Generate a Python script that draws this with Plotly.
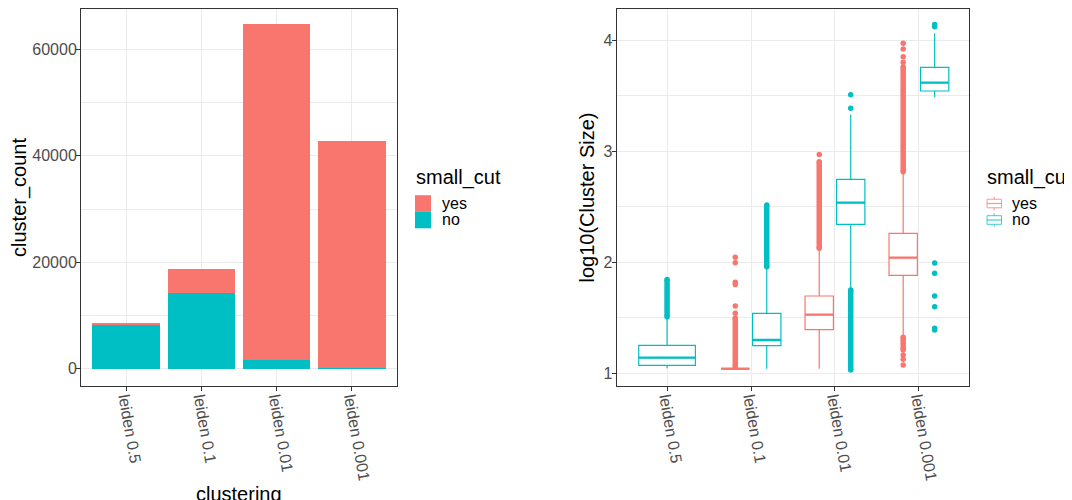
import plotly.graph_objects as go

# ---------------- data ----------------
categories = ["leiden 0.5", "leiden 0.1", "leiden 0.01", "leiden 0.001"]
groups = ["yes", "no"]

# stacked bar counts
count_yes = [250, 4500, 63000, 42700]
count_no = [8250, 14250, 1690, 60]

# box statistics of log10(cluster size) (None = no data)
yes_lower = [None, 1.041, 1.041, 1.324]
yes_q1 = [None, 1.041, 1.393, 1.882]
yes_median = [None, 1.041, 1.528, 2.041]
yes_q3 = [None, 1.041, 1.696, 2.260]
yes_upper = [None, 1.041, 2.125, 2.815]

no_lower = [1.045, 1.041, 1.750, 3.484]
no_q1 = [1.072, 1.249, 2.341, 3.541]
no_median = [1.141, 1.300, 2.536, 3.616]
no_q3 = [1.252, 1.540, 2.746, 3.754]
no_upper = [1.510, 1.960, 3.330, 4.060]

# dense outlier runs: (category index, low, high)
yes_dense_cat = [1, 2, 3, 3]
yes_dense_low = [1.060, 2.125, 2.815, 1.210]
yes_dense_high = [1.498, 2.905, 3.760, 1.324]
no_dense_cat = [0, 1, 2]
no_dense_low = [1.510, 1.960, 1.030]
no_dense_high = [1.845, 2.515, 1.750]

# isolated outliers
yes_out_cat = [1, 1, 1, 1, 1, 1, 2, 3, 3, 3, 3, 3, 3, 3]
yes_out_val = [1.540, 1.606, 1.800, 1.820, 1.996, 2.044, 2.970,
               3.800, 3.850, 3.920, 3.970, 1.165, 1.126, 1.075]
no_out_cat = [2, 2, 3, 3, 3, 3, 3, 3, 3, 3]
no_out_val = [3.385, 3.508, 4.120, 4.140, 1.993, 1.900, 1.696, 1.600, 1.405, 1.390]

legend_title = "small_cut"

# ---------------- style ----------------
RED = "#F8766D"
TEAL = "#00BFC4"
colors = {"yes": RED, "no": TEAL}
FONT = "Liberation Sans, Arial, Helvetica, sans-serif"
GRID = "#EBEBEB"
BORDER = "#333333"
TICKC = "#4D4D4D"

W, H = 1072, 500
OFF = 8  # page body margin


def fx(p):
    return (p - OFF) / W


def fy(p):
    return min(1.0, 1 - (p - OFF) / H)


fig = go.Figure()

# ---------------- left: stacked bars ----------------
xpos = list(range(len(categories)))
fig.add_trace(go.Bar(x=xpos, y=count_no, name="no", marker_color=TEAL, width=0.9,
                     marker_line_width=0, xaxis="x", yaxis="y", showlegend=False))
fig.add_trace(go.Bar(x=xpos, y=count_yes, name="yes", marker_color=RED, width=0.9,
                     marker_line_width=0, xaxis="x", yaxis="y", showlegend=False))

# ---------------- right: box plots ----------------
stats = {
    "yes": (yes_lower, yes_q1, yes_median, yes_q3, yes_upper),
    "no": (no_lower, no_q1, no_median, no_q3, no_upper),
}
DODGE = 0.75
BOXW = 0.9


def slot(ci, g):
    present = [gg for gg in groups if stats[gg][2][ci] is not None]
    n = len(present)
    k = present.index(g)
    slot_w = DODGE / n
    center = ci - DODGE / 2 + slot_w * (k + 0.5)
    return center, slot_w * BOXW


for g in groups:
    lo, q1, md, q3, up = stats[g]
    for ci in range(len(categories)):
        if md[ci] is None:
            continue
        c, w = slot(ci, g)
        fig.add_trace(go.Box(
            x=[c], lowerfence=[lo[ci]], q1=[q1[ci]], median=[md[ci]], q3=[q3[ci]],
            upperfence=[up[ci]], width=w, name=g, showlegend=False,
            line=dict(color=colors[g], width=1.2), fillcolor="white",
            whiskerwidth=0, boxpoints=False, hoverinfo="skip",
            xaxis="x2", yaxis="y2"))
        fig.add_trace(go.Scatter(
            x=[c - w / 2, c + w / 2], y=[md[ci], md[ci]], mode="lines",
            line=dict(color=colors[g], width=2.4), showlegend=False,
            hoverinfo="skip", xaxis="x2", yaxis="y2"))

for g, cats, lows, highs in (("yes", yes_dense_cat, yes_dense_low, yes_dense_high),
                             ("no", no_dense_cat, no_dense_low, no_dense_high)):
    for ci, lo_v, hi_v in zip(cats, lows, highs):
        c, _ = slot(ci, g)
        fig.add_trace(go.Scatter(
            x=[c, c], y=[lo_v, hi_v], mode="lines+markers",
            line=dict(color=colors[g], width=5.5),
            marker=dict(color=colors[g], size=5.5),
            showlegend=False, hoverinfo="skip", xaxis="x2", yaxis="y2"))

for g, cats, vals in (("yes", yes_out_cat, yes_out_val), ("no", no_out_cat, no_out_val)):
    xs = [slot(ci, g)[0] for ci in cats]
    fig.add_trace(go.Scatter(
        x=xs, y=vals, mode="markers", marker=dict(color=colors[g], size=5.5),
        showlegend=False, hoverinfo="skip", xaxis="x2", yaxis="y2"))

# ---------------- manual legends ----------------
shapes = []
annotations = []
item_mid = [203.5, 220.0]

# left legend (filled keys)
annotations.append(dict(text=legend_title, x=fx(414), y=fy(177), xanchor="left", yanchor="middle",
                        font=dict(family=FONT, size=20, color="black")))
for g, ym in zip(groups, item_mid):
    shapes.append(dict(type="rect", xref="paper", yref="paper", x0=fx(415), x1=fx(431),
                       y0=fy(ym - 8.3), y1=fy(ym + 8.3), fillcolor=colors[g], line=dict(width=0)))
    annotations.append(dict(text=g, x=fx(440), y=fy(ym), xanchor="left", yanchor="middle",
                            font=dict(family=FONT, size=16, color="black")))

# right legend (box keys)
annotations.append(dict(text=legend_title, x=fx(985), y=fy(177), xanchor="left", yanchor="middle",
                        font=dict(family=FONT, size=20, color="black")))
for g, ym in zip(groups, item_mid):
    col = colors[g]
    shapes.append(dict(type="rect", xref="paper", yref="paper", x0=fx(987), x1=fx(1001.5),
                       y0=fy(ym - 4.3), y1=fy(ym + 4.3), line=dict(color=col, width=1), opacity=0.75))
    shapes.append(dict(type="line", xref="paper", yref="paper", x0=fx(987), x1=fx(1001.5),
                       y0=fy(ym), y1=fy(ym), line=dict(color=col, width=1.2), opacity=0.75))
    shapes.append(dict(type="line", xref="paper", yref="paper", x0=fx(994.2), x1=fx(994.2),
                       y0=fy(ym - 6.8), y1=fy(ym - 4.3), line=dict(color=col, width=1), opacity=0.75))
    shapes.append(dict(type="line", xref="paper", yref="paper", x0=fx(994.2), x1=fx(994.2),
                       y0=fy(ym + 4.3), y1=fy(ym + 6.8), line=dict(color=col, width=1), opacity=0.75))
    annotations.append(dict(text=g, x=fx(1010), y=fy(ym), xanchor="left", yanchor="middle",
                            font=dict(family=FONT, size=16, color="black")))

# x title of left panel
annotations.append(dict(text="clustering", x=fx(239), y=fy(480.5), xanchor="center", yanchor="top",
                        font=dict(family=FONT, size=20, color="black")))
for a in annotations:
    a.update(xref="paper", yref="paper", showarrow=False)

# ---------------- layout ----------------
xcommon = dict(
    range=[-0.6, 3.6], tickmode="array", tickvals=xpos, ticktext=categories,
    tickangle=80, ticks="outside", ticklen=4, tickcolor=BORDER, tickwidth=1,
    ticklabelstandoff=-8,
    tickfont=dict(family=FONT, size=16, color=TICKC),
    showgrid=True, gridcolor=GRID, gridwidth=1.1, zeroline=False,
    showline=True, linecolor=BORDER, linewidth=1, mirror=True,
)
ycommon = dict(
    ticks="outside", ticklen=4, tickcolor=BORDER, tickwidth=1,
    ticklabelstandoff=-4,
    tickfont=dict(family=FONT, size=16, color=TICKC),
    showgrid=True, gridcolor=GRID, gridwidth=1.1, zeroline=False,
    showline=True, linecolor=BORDER, linewidth=1, mirror=True,
)

# plot area spans ref px 7..386; the page margin pushes the top edge above the
# visible area, so the domain top sits 1px inside the figure and the ranges are
# trimmed by the two lost pixels to keep the tick positions
ydom = [fy(386), 1 - 1.0 / H]
fig.update_layout(
    width=W, height=H, margin=dict(l=0, r=0, t=0, b=0),
    plot_bgcolor="white", paper_bgcolor="white",
    barmode="stack", boxmode="overlay", bargap=0, showlegend=False,
    font=dict(family=FONT, color="black"),
    xaxis=dict(domain=[fx(81), fx(397)], anchor="y", **xcommon),
    yaxis=dict(domain=ydom, anchor="x", range=[-3235, 67560],
               tickvals=[0, 20000, 40000, 60000], ticktext=["0", "20000", "40000", "60000"],
               minor=dict(dtick=10000, tick0=0, showgrid=True, gridcolor=GRID, gridwidth=0.6, ticks=""),
               title=dict(text="cluster_count", font=dict(family=FONT, size=20, color="black"), standoff=3),
               **ycommon),
    xaxis2=dict(domain=[fx(616.7), fx(969.3)], anchor="y2", **xcommon),
    yaxis2=dict(domain=ydom, anchor="x2", range=[0.886, 4.279],
                tickvals=[1, 2, 3, 4], ticktext=["1", "2", "3", "4"],
                minor=dict(dtick=0.5, tick0=0, showgrid=True, gridcolor=GRID, gridwidth=0.6, ticks=""),
                title=dict(text="log10(Cluster Size)", font=dict(family=FONT, size=20, color="black"), standoff=3),
                **ycommon),
    shapes=shapes,
    annotations=annotations,
)

fig.write_html("out.html")
